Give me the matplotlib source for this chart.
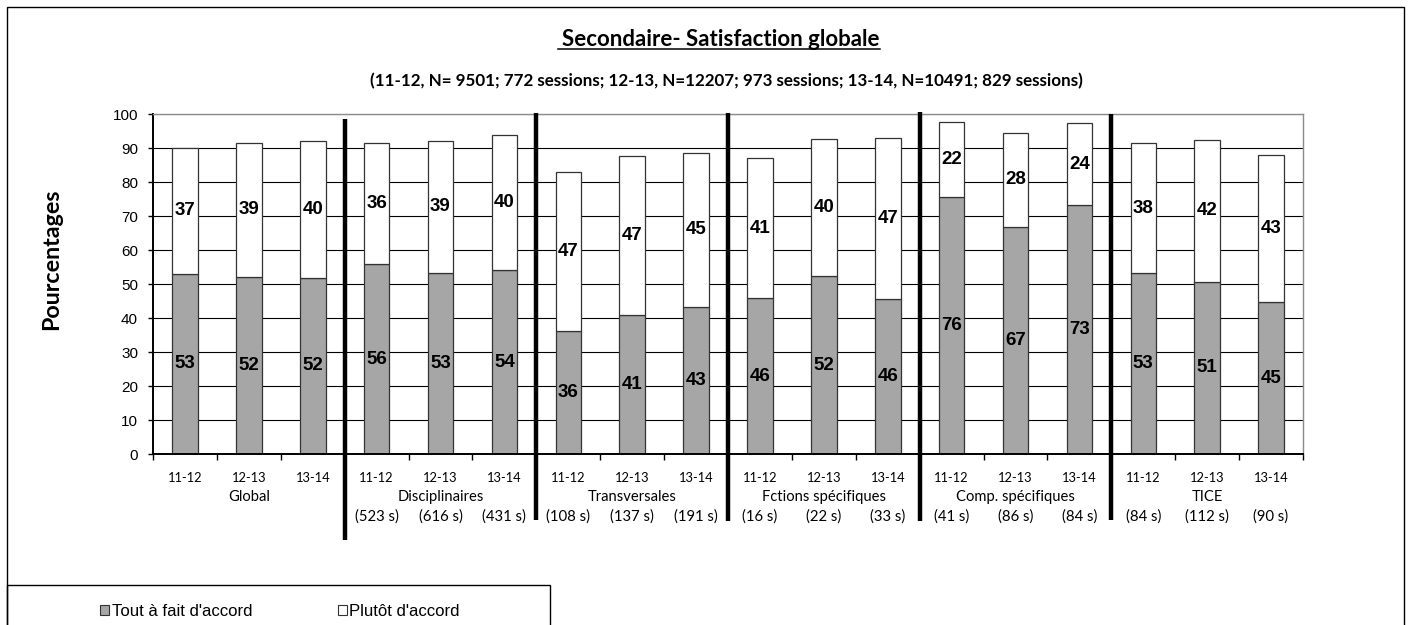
import matplotlib
matplotlib.use("Agg")
import matplotlib.pyplot as plt
import numpy as np
from matplotlib.patches import Rectangle, Patch
from matplotlib.lines import Line2D
from matplotlib.transforms import blended_transform_factory

# ---------------- data ----------------
groups = ["Global", "Disciplinaires", "Transversales", "Fctions spécifiques",
          "Comp. spécifiques", "TICE"]
years = ["11-12", "12-13", "13-14"]
sessions = [
    ["", "", ""],
    ["(523 s)", "(616 s)", "(431 s)"],
    ["(108 s)", "(137 s)", "(191 s)"],
    ["(16 s)", "(22 s)", "(33 s)"],
    ["(41 s)", "(86 s)", "(84 s)"],
    ["(84 s)", "(112 s)", "(90 s)"],
]
tout_a_fait = [53.0, 52.2, 51.8, 55.8, 53.2, 54.0, 36.3, 40.8, 43.2,
               45.8, 52.3, 45.7, 75.7, 66.8, 73.1, 53.1, 50.6, 44.6]
plutot = [37.1, 39.3, 40.2, 35.8, 39.0, 39.7, 46.7, 46.8, 45.4,
          41.2, 40.4, 47.3, 21.9, 27.6, 24.2, 38.4, 41.9, 43.2]
series_names = ["Tout à fait d'accord", "Plutôt d'accord"]
title = "Secondaire- Satisfaction globale"
subtitle = ("(11-12, N= 9501; 772 sessions; 12-13, N=12207; 973 sessions; "
            "13-14, N=10491; 829 sessions)")
ylabel = "Pourcentages"

# ---------------- figure ----------------
W, H = 1409, 625
fig = plt.figure(figsize=(W / 100, H / 100), dpi=100)
fig.patch.set_facecolor("white")

def fx(px):
    return px / W

def fy(py):
    return 1 - py / H

ax = fig.add_axes([fx(153), fy(454), fx(1303) - fx(153), fy(114) - fy(454)])

CAL = "Lato"
ARIAL = "Liberation Sans"
renderer = fig.canvas.get_renderer()

def size_for(text, px, family, weight="normal", base=10.0):
    t = fig.text(0, 0, text, fontsize=base, family=family, fontweight=weight)
    w = t.get_window_extent(renderer).width
    t.remove()
    return base * px / w

n = len(tout_a_fait)
x = np.arange(n)
gray = "#a6a6a6"
edge = "#333333"

ax.bar(x, tout_a_fait, width=0.4, color=gray, edgecolor=edge, linewidth=0.9,
       zorder=3, label=series_names[0])
ax.bar(x, plutot, width=0.4, bottom=tout_a_fait, color="white", edgecolor=edge,
       linewidth=0.9, zorder=3, label=series_names[1])

for xi, t, p in zip(x, tout_a_fait, plutot):
    ax.text(xi, t / 2, f"{t:.0f}", ha="center", va="center", fontsize=13.5,
            fontweight="bold", family=ARIAL, zorder=5)
    ax.text(xi, t + p / 2, f"{p:.0f}", ha="center", va="center", fontsize=13.5,
            fontweight="bold", family=ARIAL, zorder=5)

ax.set_xlim(-0.5, n - 0.5)
ax.set_ylim(0, 100)
ax.set_yticks(np.arange(0, 101, 10))
ax.set_yticklabels([str(v) for v in range(0, 101, 10)], family=ARIAL, fontsize=11)
ax.set_xticks(np.arange(-0.5, n, 1))
ax.set_xticklabels([])
ax.tick_params(axis="y", direction="out", length=5 * 0.72, width=1.0, pad=7.2,
               colors="black")
ax.tick_params(axis="x", direction="out", length=6 * 0.72, width=1.0)

ax.yaxis.grid(True, color="black", linewidth=0.8)
ax.set_axisbelow(True)
ax.get_ygridlines()[-1].set_color("#8c8c8c")

for s in ["left", "bottom"]:
    ax.spines[s].set_color("black")
    ax.spines[s].set_linewidth(1.4)
for s in ["top", "right"]:
    ax.spines[s].set_color("#8c8c8c")
    ax.spines[s].set_linewidth(1.0)
ax.spines["bottom"].set_zorder(6)

# thick group separators
sep_x = [2.5, 5.5, 8.5, 11.5, 14.5]
sep_top = [98.5, 100.3, 100.3, 100.6, 100.0]
sep_bot = [-25.3, -19.4, -19.6, -19.6, -19.4]
for sx, st, sb in zip(sep_x, sep_top, sep_bot):
    ax.plot([sx, sx], [sb, st], color="black", linewidth=3.2, clip_on=False,
            zorder=7, solid_capstyle="butt")

# category axis labels
tr = blended_transform_factory(ax.transData, fig.transFigure)
fs_year = size_for("11-12", 35, CAL)
fs_group = size_for("Transversales", 88, CAL)
fs_sess = size_for("(108 s)", 44, CAL)
for g, gname in enumerate(groups):
    for k in range(3):
        i = g * 3 + k
        ax.text(i, fy(478), years[k], transform=tr, ha="center", va="center",
                family=CAL, fontsize=fs_year)
        if sessions[g][k]:
            ax.text(i, fy(517), sessions[g][k], transform=tr, ha="center",
                    va="center", family=CAL, fontsize=fs_sess)
    ax.text(g * 3 + 1, fy(497), gname, transform=tr, ha="center", va="center",
            family=CAL, fontsize=fs_group)

# title & subtitle
fs_title = size_for(title, 318, CAL, "bold")
fig.text(fx(721), fy(40), title, ha="center", va="center", family=CAL,
         fontweight="bold", fontsize=fs_title)
fig.add_artist(Line2D([fx(558), fx(880)], [fy(48.5), fy(48.5)], color="black",
                      linewidth=1.1, transform=fig.transFigure))
fs_sub = size_for(subtitle, 716, CAL, "bold")
fig.text(fx(726), fy(81), subtitle, ha="center", va="center", family=CAL,
         fontweight="bold", fontsize=fs_sub)

# y label
fs_yl = size_for(ylabel, 142, CAL, "bold")
fig.text(fx(52), fy(259), ylabel, rotation=90, ha="center", va="center",
         family=CAL, fontweight="bold", fontsize=fs_yl)

# outer frame
fig.add_artist(Rectangle((fx(6.5), fy(640)), fx(1403.5) - fx(6.5), fy(6.5) - fy(640),
                         transform=fig.transFigure, fill=False, edgecolor="black",
                         linewidth=1.0, clip_on=False))
# legend box
fig.add_artist(Rectangle((fx(7), fy(640)), fx(550) - fx(7), fy(585) - fy(640),
                         transform=fig.transFigure, fill=False, edgecolor="black",
                         linewidth=1.0, clip_on=False))
handles = [Patch(facecolor=gray, edgecolor=edge, linewidth=0.8),
           Patch(facecolor="white", edgecolor=edge, linewidth=0.8)]
fs_leg = size_for(series_names[0], 141, ARIAL)
fig.legend(handles, series_names, loc="center left",
           bbox_to_anchor=(fx(100), fy(611)), ncol=2, frameon=False,
           prop={"family": ARIAL, "size": fs_leg}, handlelength=0.55,
           handleheight=0.55, handletextpad=0.15, columnspacing=5.1,
           borderpad=0, borderaxespad=0)

fig.savefig("out.png", dpi=100, facecolor="white")
